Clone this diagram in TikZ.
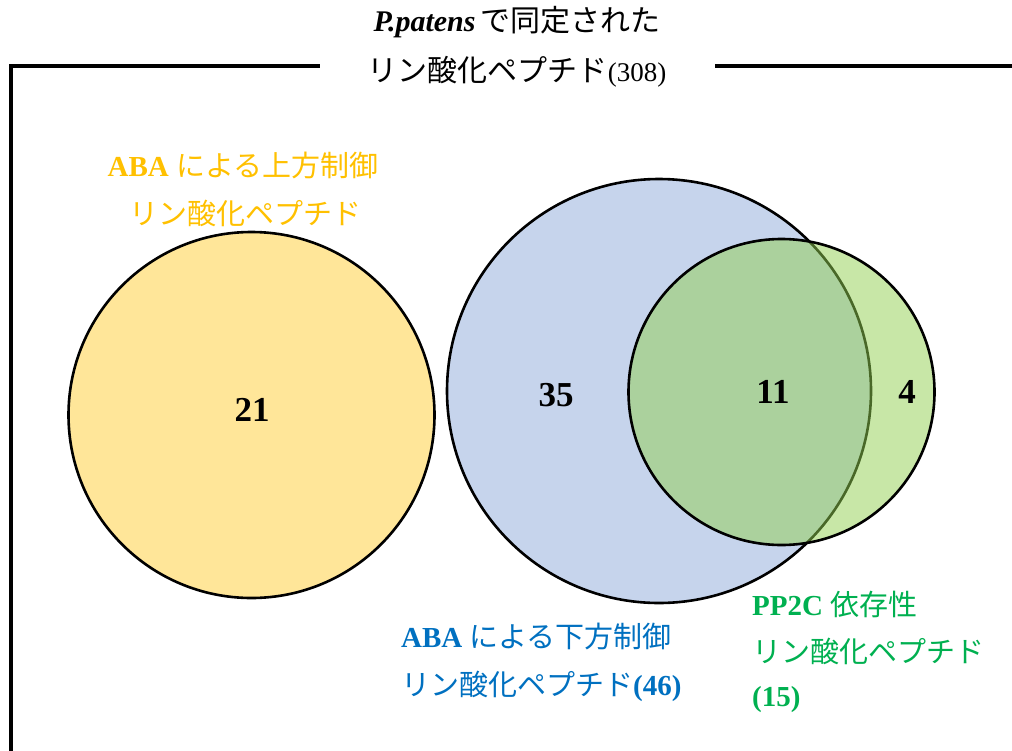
\documentclass[tikz,border=0pt]{standalone}
\usepackage{fontspec}
\setmainfont{Liberation Serif}
\newfontfamily\jp{Noto Sans CJK JP}
\definecolor{yfill}{RGB}{255,230,153}
\definecolor{bfill}{RGB}{198,212,236}
\definecolor{gfill}{RGB}{146,208,80}
\definecolor{ytext}{RGB}{255,192,0}
\definecolor{btext}{RGB}{0,112,192}
\definecolor{gtext}{RGB}{0,176,80}
\tikzset{
  venn/.style={draw=black, line width=2.6pt},
  lbl/.style={font=\fontsize{29}{34}\selectfont, inner sep=0pt},
  ttl/.style={font=\fontsize{30}{36}\selectfont, inner sep=0pt},
  num/.style={font=\fontsize{35}{40}\selectfont\bfseries, inner sep=0pt},
  frameline/.style={line width=3.6pt}
}
\begin{document}
\begin{tikzpicture}[x=1pt,y=-1pt]
\useasboundingbox (0,0) rectangle (1012,750);
% frame
\coordinate (fb) at (11,752);
\coordinate (fc) at (11,66);
\coordinate (fl) at (320,66);
\coordinate (fr1) at (715,66);
\coordinate (fr2) at (1014,66);
\draw[frameline] (fb) -- (fc) -- (fl);
\draw[frameline] (fr1) -- (fr2);
% title
\node[ttl] (t1) at (517,22) {\textbf{\textit{P.patens}}\,{\jp で同定された}};
\node[ttl] (t2) at (517,72) {{\jp リン酸化ペプチド}{\fontsize{27}{32}\selectfont(308)}};
% circles
\draw[venn, fill=yfill] (251.5,415) circle[radius=183];
\draw[venn, fill=bfill] (659,391) circle[radius=212];
\draw[venn, fill=gfill, fill opacity=0.5] (781.5,392) circle[radius=153];
% numbers
\node[num] (n21) at (252,410) {21};
\node[num] (n35) at (556,395) {35};
\node[num] (n11) at (773,392) {11};
\node[num] (n4) at (907,392) {4};
% labels
\node[lbl, text=ytext] (ya) at (243,165) {\textbf{ABA} {\jp による上方制御}};
\node[lbl, text=ytext] (yb) at (245,213) {\jp リン酸化ペプチド};
\node[lbl, text=btext, anchor=west] (ba) at (401,636) {\textbf{ABA} {\jp による下方制御}};
\node[lbl, text=btext, anchor=west] (bb) at (401,686) {{\jp リン酸化ペプチド}\textbf{(46)}};
\node[lbl, text=gtext, anchor=west] (ga) at (752,604) {\textbf{PP2C} {\jp 依存性}};
\node[lbl, text=gtext, anchor=west] (gb) at (752,651) {\jp リン酸化ペプチド};
\node[lbl, text=gtext, anchor=west] (gc) at (752,700) {\textbf{(15)}};
\end{tikzpicture}
\end{document}
